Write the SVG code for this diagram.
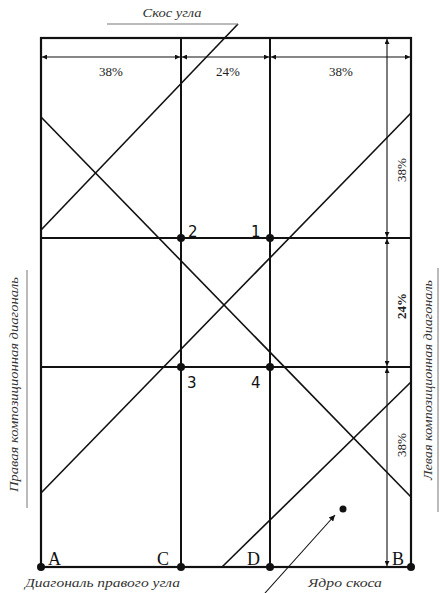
<svg xmlns="http://www.w3.org/2000/svg" width="440" height="593" viewBox="0 0 440 593">
<style>
.frame{stroke:#111;stroke-width:2.2;fill:none}
.grid{stroke:#111;stroke-width:2;fill:none}
.diag{stroke:#111;stroke-width:1.6;fill:none}
.dim{stroke:#111;stroke-width:1.1;fill:none}
.thin{stroke:#777;stroke-width:1;fill:none}
.pct{font-family:"Liberation Serif",serif;font-size:13px;fill:#222}
.it{font-family:"Liberation Serif",serif;font-style:italic;font-size:12px;fill:#333}
.num{font-family:"DejaVu Sans",sans-serif;font-size:15px;fill:#111}
.let{font-family:"Liberation Serif",serif;font-size:18px;fill:#111}
.dot{fill:#111}
</style>
<defs>
<marker id="ah" viewBox="0 0 10 10" refX="10" refY="5" markerWidth="8" markerHeight="5" markerUnits="userSpaceOnUse" orient="auto"><path d="M0,0L10,5L0,10z" fill="#111"/></marker>
<marker id="ahs" viewBox="0 0 10 10" refX="10" refY="5" markerWidth="9" markerHeight="6" markerUnits="userSpaceOnUse" orient="auto"><path d="M0,0L10,5L0,10z" fill="#111"/></marker>
</defs>
<rect width="440" height="593" fill="#fff"/>
<g id="connectors">
<rect class="frame" x="41" y="38" width="370" height="529"/>
<line class="grid" x1="181" y1="38" x2="181" y2="567"/>
<line class="grid" x1="270" y1="38" x2="270" y2="567"/>
<line class="grid" x1="41" y1="238" x2="411" y2="238"/>
<line class="grid" x1="41" y1="367" x2="411" y2="367"/>
<line class="diag" x1="238" y1="24" x2="41" y2="230"/>
<line class="diag" x1="41" y1="117" x2="411" y2="497"/>
<line class="diag" x1="41" y1="493" x2="411" y2="113"/>
<line class="diag" x1="222" y1="567" x2="411" y2="382"/>
<line class="thin" x1="107" y1="24" x2="238" y2="24"/>
<line class="thin" x1="27" y1="270" x2="27" y2="508"/>
<line class="thin" x1="438" y1="268" x2="438" y2="512"/>
<line class="dim" x1="111" y1="57" x2="42" y2="57" marker-end="url(#ah)"/>
<line class="dim" x1="111" y1="57" x2="180" y2="57" marker-end="url(#ah)"/>
<line class="dim" x1="226" y1="57" x2="182" y2="57" marker-end="url(#ah)"/>
<line class="dim" x1="226" y1="57" x2="269" y2="57" marker-end="url(#ah)"/>
<line class="dim" x1="340" y1="57" x2="271" y2="57" marker-end="url(#ah)"/>
<line class="dim" x1="340" y1="57" x2="410" y2="57" marker-end="url(#ah)"/>
<line class="dim" x1="387" y1="138" x2="387" y2="39" marker-end="url(#ah)"/>
<line class="dim" x1="387" y1="138" x2="387" y2="237" marker-end="url(#ah)"/>
<line class="dim" x1="387" y1="302" x2="387" y2="239" marker-end="url(#ah)"/>
<line class="dim" x1="387" y1="302" x2="387" y2="366" marker-end="url(#ah)"/>
<line class="dim" x1="387" y1="467" x2="387" y2="368" marker-end="url(#ah)"/>
<line class="dim" x1="387" y1="467" x2="387" y2="566" marker-end="url(#ah)"/>
<line class="dim" x1="265" y1="593" x2="335" y2="515" marker-end="url(#ahs)"/>
</g>
<g id="points">
<circle class="dot" cx="181" cy="238" r="4"/>
<circle class="dot" cx="270" cy="238" r="4"/>
<circle class="dot" cx="181" cy="367" r="4"/>
<circle class="dot" cx="270" cy="367" r="4"/>
<circle class="dot" cx="41" cy="567" r="4"/>
<circle class="dot" cx="181" cy="567" r="4"/>
<circle class="dot" cx="270" cy="567" r="4"/>
<circle class="dot" cx="411" cy="567" r="4"/>
<circle class="dot" cx="343" cy="509" r="3.5"/>
</g>
<g id="labels">
<text class="pct" x="111" y="76" text-anchor="middle">38%</text>
<text class="pct" x="228" y="76" text-anchor="middle">24%</text>
<text class="pct" x="341" y="76" text-anchor="middle">38%</text>
<text class="pct" transform="translate(406,170) rotate(-90)" text-anchor="middle">38%</text>
<text class="pct" transform="translate(406,306) rotate(-90)" text-anchor="middle" font-weight="bold">24%</text>
<text class="pct" transform="translate(406,445) rotate(-90)" text-anchor="middle">38%</text>
<text class="num" x="188" y="237">2</text>
<text class="num" x="251" y="237">1</text>
<text class="num" x="187" y="388">3</text>
<text class="num" x="251" y="388">4</text>
<text class="let" x="48" y="565">A</text>
<text class="let" x="157" y="565">C</text>
<text class="let" x="247" y="565">D</text>
<text class="let" x="392" y="565">B</text>
<text class="it" x="172" y="17" text-anchor="middle" textLength="59" lengthAdjust="spacingAndGlyphs">Скос угла</text>
<text class="it" x="25" y="587" textLength="155" lengthAdjust="spacingAndGlyphs">Диагональ правого угла</text>
<text class="it" x="308" y="587" textLength="74" lengthAdjust="spacingAndGlyphs">Ядро скоса</text>
<text class="it" transform="translate(18,492) rotate(-90)" textLength="215" lengthAdjust="spacingAndGlyphs">Правая композиционная диагональ</text>
<text class="it" transform="translate(432,480) rotate(-90)" textLength="200" lengthAdjust="spacingAndGlyphs">Левая композиционная диагональ</text>
</g>
</svg>
